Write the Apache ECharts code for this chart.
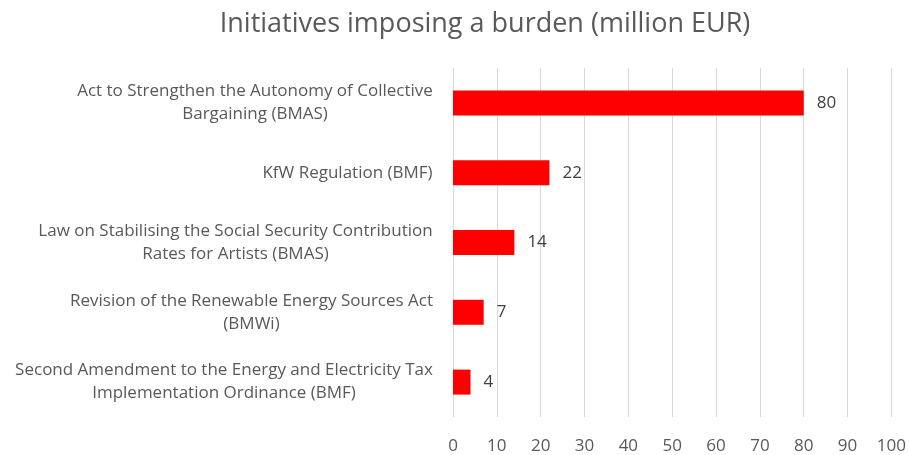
<!DOCTYPE html>
<html><head><meta charset="utf-8">
<script src="https://cdn.jsdelivr.net/npm/echarts@6/dist/echarts.min.js"></script>
<style>html,body{margin:0;padding:0;background:#fff}#c{width:909px;height:455px}</style>
</head><body><div id="c"></div>
<script>
const categories = [
  "Act to Strengthen the Autonomy of Collective\nBargaining (BMAS)",
  "KfW Regulation (BMF)",
  "Law on Stabilising the Social Security Contribution\nRates for Artists (BMAS)",
  "Revision of the Renewable Energy Sources Act\n(BMWi)",
  "Second Amendment to the Energy and Electricity Tax\nImplementation Ordinance (BMF)"
];
const values = [80, 22, 14, 7, 4];
const xTicks = [0, 10, 20, 30, 40, 50, 60, 70, 80, 90, 100];
const titleText = "Initiatives imposing a burden (million EUR)";

const font = "'Open Sans', sans-serif";
const labelSize = 17;
const cv = document.createElement('canvas').getContext('2d');
cv.font = labelSize + "px 'Open Sans'";
const rich = {};
categories.forEach((c, i) => {
  const w = Math.max(...c.split('\n').map(s => cv.measureText(s).width));
  rich['r' + i] = {width: Math.ceil(w), align: 'center', fontFamily: font, fontSize: labelSize,
    color: '#595959', lineHeight: 23};
});

const chart = echarts.init(document.getElementById('c'));
chart.setOption({
  animation: false,
  title: {
    text: titleText, left: 480, top: 6, textAlign: 'center',
    textStyle: {fontFamily: font, fontSize: 27, fontWeight: 'normal', color: '#595959'}
  },
  grid: {left: 453, right: 17, top: 68, bottom: 37, containLabel: false},
  xAxis: {
    type: 'value', min: xTicks[0], max: xTicks[xTicks.length - 1], interval: 10,
    axisLine: {show: false}, axisTick: {show: false},
    axisLabel: {fontFamily: font, fontSize: 17, color: '#595959', margin: 21},
    splitLine: {lineStyle: {color: '#D9D9D9', width: 1}}
  },
  yAxis: {
    type: 'category', data: categories, inverse: true,
    axisLine: {show: false}, axisTick: {show: false},
    axisLabel: {align: 'right', margin: 20,
      formatter: (v, i) => v.split('\n').map(s => '{r' + i + '|' + s + '}').join('\n'),
      rich: rich},
    splitLine: {show: false}
  },
  series: [{
    type: 'bar', data: values, barWidth: 25,
    itemStyle: {color: '#FF0000'},
    label: {show: true, position: 'right', distance: 13, fontFamily: font, fontSize: 17, color: '#404040'}
  }]
});
</script></body></html>
